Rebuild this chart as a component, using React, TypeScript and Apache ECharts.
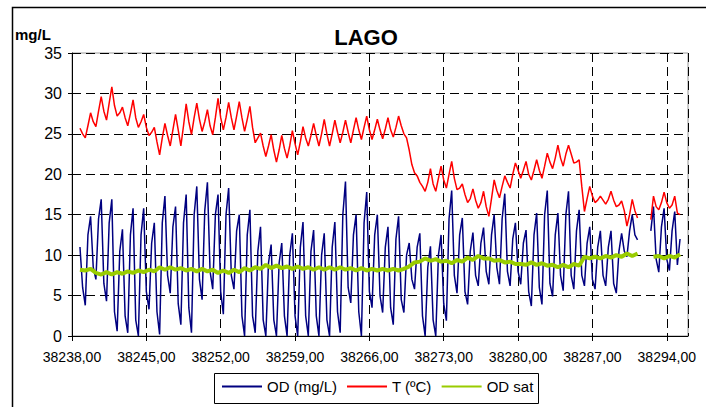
import React, { useEffect, useRef } from 'react';
import * as echarts from 'echarts';

// ---- axis settings ----
const BASE_DAY = 38238;
const AXIS_MAX_DAY = 38296;
const X_TICK_STEP = 7;
const Y_MIN = 0;
const Y_MAX = 35;
const Y_STEP = 5;

// ---- series ----
const SERIES_NAMES = ['OD (mg/L)', 'T (ºC)', 'OD sat'];
const TITLE = 'LAGO';
const Y_UNIT = 'mg/L';

// OD and T sampled every 0.25 day from 38238.75
const OD_START = 38238.75;
const OD_STEP = 0.25;
const odValues: (number | null)[] = [
  11.0,
  6.0, 3.8, 12.5, 14.8,
  8.5, 7.0, 14.5, 16.9,
  6.5, 4.3, 14.0, 16.9,
  3.0, 0.6, 10.5, 13.2,
  2.5, 0.4, 12.5, 15.8,
  2.0, 0.0, 12.5, 15.8,
  5.5, 3.3, 11.5, 14.0,
  3.0, 0.2, 14.0, 17.3,
  7.5, 5.3, 13.5, 16.0,
  4.0, 1.4, 14.0, 17.5,
  3.5, 0.4, 15.0, 18.5,
  7.0, 4.5, 15.5, 19.0,
  8.0, 5.8, 15.0, 17.5,
  5.5, 2.7, 15.0, 18.3,
  7.5, 5.8, 13.0, 15.0,
  2.5, 0.0, 12.5, 15.6,
  2.5, 0.4, 10.5, 13.5,
  2.0, 0.0, 9.0, 11.3,
  2.0, 0.0, 9.0, 11.5,
  2.5, 0.0, 10.0, 12.7,
  2.5, 0.0, 11.0, 14.1,
  2.5, 0.0, 10.5, 13.1,
  2.5, 0.0, 10.0, 12.7,
  2.0, 0.0, 11.0, 14.1,
  3.0, 0.4, 15.0, 19.1,
  6.0, 4.1, 12.5, 15.0,
  3.0, 0.0, 14.0, 17.8,
  5.5, 3.5, 12.5, 15.0,
  5.0, 2.9, 11.0, 13.5,
  3.5, 1.4, 12.0, 14.8,
  4.5, 2.9, 10.0, 11.5,
  7.0, 5.8, 11.0, 12.7,
  2.5, 0.0, 8.5, 11.1,
  2.0, 0.0, 10.0, 12.5,
  4.0, 1.9, 14.5, 18.0,
  7.5, 5.3, 12.5, 14.6,
  5.5, 3.9, 10.5, 12.8,
  7.5, 6.2, 11.5, 13.4,
  8.0, 6.4, 12.5, 15.0,
  8.5, 6.4, 14.5, 17.6,
  8.0, 6.2, 12.0, 14.0,
  8.0, 6.4, 11.5, 13.1,
  5.5, 3.7, 12.5, 15.2,
  6.0, 3.9, 15.0, 18.0,
  6.5, 4.9, 12.5, 15.2,
  7.5, 5.6, 15.0, 17.9,
  7.5, 5.8, 13.0, 15.6,
  7.5, 6.2, 11.5, 13.5,
  7.0, 5.8, 11.0, 13.0,
  7.5, 6.2, 11.0, 13.0,
  6.5, 5.3, 10.5, 12.7,
  10.5, 9.8, 13.0, 15.0,
  12.5, 11.9, null, null,
  null, null, 13.0, 16.0,
  9.5, 7.9, 13.5, 15.8,
  9.5, 8.1, 13.0, 15.4,
  8.8, 12.0,
];

const tempValues: (number | null)[] = [
  25.7,
  25.0, 24.5, 26.0, 27.6,
  26.5, 25.9, 27.8, 29.6,
  27.8, 26.7, 28.8, 30.8,
  28.5, 27.2, 27.6, 28.3,
  27.0, 26.0, 27.5, 29.2,
  27.0, 25.8, 26.5, 27.4,
  25.8, 24.8, 25.2, 25.8,
  24.0, 22.4, 24.5, 26.3,
  24.8, 23.5, 25.5, 27.4,
  25.5, 23.5, 26.0, 28.7,
  26.5, 24.9, 27.0, 28.8,
  26.8, 25.3, 26.5, 28.0,
  26.0, 24.9, 27.0, 29.4,
  27.0, 25.5, 27.0, 28.9,
  27.0, 25.5, 27.2, 29.0,
  27.0, 25.3, 26.8, 28.4,
  25.8, 23.9, 24.5, 25.1,
  23.5, 22.2, 23.5, 24.9,
  23.0, 21.5, 23.0, 24.8,
  23.2, 22.0, 23.5, 25.4,
  23.8, 22.4, 24.0, 25.9,
  24.5, 23.5, 24.8, 26.3,
  24.8, 23.5, 25.0, 26.8,
  25.0, 23.5, 25.0, 26.7,
  25.2, 23.9, 25.2, 26.7,
  25.2, 23.9, 25.5, 27.0,
  25.5, 24.3, 25.8, 27.2,
  25.5, 24.3, 25.5, 26.8,
  25.5, 24.4, 25.6, 27.0,
  25.5, 24.6, 25.8, 27.2,
  26.0, 25.0, 24.5, 23.0,
  21.2, 20.2, 19.8, 19.0,
  18.5, 17.9, 19.0, 20.7,
  18.8, 17.9, 19.5, 21.0,
  19.3, 18.3, 20.0, 21.6,
  19.5, 18.1, 18.3, 18.8,
  17.5, 16.5, 17.0, 18.2,
  16.8, 15.8, 16.5, 17.9,
  16.0, 14.8, 17.0, 19.3,
  18.0, 17.1, 18.5, 19.8,
  19.0, 18.3, 20.0, 21.4,
  20.5, 19.5, 20.5, 21.6,
  20.0, 19.3, 20.5, 21.8,
  20.5, 19.5, 21.0, 22.6,
  21.5, 20.7, 22.0, 23.6,
  22.0, 21.0, 22.5, 23.6,
  22.5, 21.4, 21.5, 21.8,
  18.5, 15.4, 17.0, 18.5,
  17.3, 16.5, 16.8, 17.3,
  16.8, 16.3, 16.9, 17.9,
  16.8, 16.0, 16.2, 16.7,
  15.5, 13.6, 15.0, 16.9,
  15.5, 14.6, null, null,
  null, null, 14.4, 17.3,
  16.0, 15.6, 16.5, 17.8,
  16.5, 15.8, 16.2, 17.3,
  15.2, 15.0,
];

// OD sat sampled every 0.5 day from 38238.75
const SAT_START = 38238.75;
const SAT_STEP = 0.5;
const satValues: (number | null)[] = [
  8.2,
  8.1, 8.3,
  7.8, 7.6,
  7.9, 7.6,
  7.9, 7.7,
  8.0, 7.8,
  8.1, 7.9,
  8.2, 8.0,
  8.5, 8.2,
  8.5, 8.2,
  8.4, 8.1,
  8.3, 8.0,
  8.3, 8.0,
  8.2, 7.8,
  8.1, 7.8,
  8.2, 7.9,
  8.4, 8.1,
  8.5, 8.3,
  8.8, 8.4,
  8.7, 8.4,
  8.6, 8.3,
  8.6, 8.3,
  8.5, 8.2,
  8.5, 8.2,
  8.5, 8.2,
  8.5, 8.2,
  8.4, 8.1,
  8.4, 8.1,
  8.3, 8.1,
  8.3, 8.1,
  8.3, 8.1,
  8.3, 8.6,
  9.1, 9.2,
  9.6, 9.3,
  9.5, 9.2,
  9.3, 9.0,
  9.4, 9.2,
  9.7, 9.4,
  9.9, 9.6,
  9.6, 9.3,
  9.4, 9.1,
  9.2, 8.9,
  8.9, 8.8,
  9.1, 8.8,
  9.0, 8.7,
  8.8, 8.5,
  8.8, 8.5,
  8.9, 8.7,
  9.8, 9.6,
  9.8, 9.6,
  9.9, 9.7,
  10.0, 9.8,
  10.2, 9.9,
  10.2, null,
  null, 9.8,
  9.9, 9.6,
  9.9, 9.7,
  10.1,
];

const toPairs = (vals: (number | null)[], start: number, step: number) =>
  vals.map((v, i) => [start - BASE_DAY + i * step, v]);

const FONT = 'Liberation Sans, Arial, Helvetica, sans-serif';

export default function App() {
  const ref = useRef<HTMLDivElement>(null);
  useEffect(() => {
    if (!ref.current) return;
    const chart = echarts.init(ref.current, undefined, { renderer: 'svg' });
    const option: any = {
      animation: false,
      backgroundColor: '#fff',
      grid: {
        left: 72,
        right: 18,
        top: 53,
        bottom: 71,
        show: true,
        borderColor: '#999',
        borderWidth: 1,
        backgroundColor: 'transparent',
      },
      graphic: [
        {
          type: 'rect',
          shape: { x: 12.5, y: 7.5, width: 900, height: 600 },
          style: { fill: 'none', stroke: '#000', lineWidth: 1.5 },
          silent: true,
        },
        {
          type: 'rect',
          shape: { x: 214.5, y: 373.5, width: 324, height: 30 },
          style: { fill: 'none', stroke: '#000', lineWidth: 1 },
          silent: true,
        },
        {
          type: 'text',
          x: 366,
          y: 37,
          style: {
            text: TITLE,
            font: 'bold 22px ' + FONT,
            fill: '#000',
            textAlign: 'center',
            textVerticalAlign: 'middle',
          },
        },
        {
          type: 'text',
          x: 15,
          y: 34,
          style: {
            text: Y_UNIT,
            font: 'bold 15px ' + FONT,
            fill: '#000',
            textAlign: 'left',
            textVerticalAlign: 'middle',
          },
        },
      ],
      legend: {
        data: SERIES_NAMES,
        left: 214,
        top: 373,
        itemWidth: 40,
        itemHeight: 14,
        itemGap: 9,
        padding: [6, 7, 6, 7],
        borderWidth: 0,
        itemStyle: { color: 'rgba(0,0,0,0)', borderColor: 'rgba(0,0,0,0)', borderWidth: 0, opacity: 0 },
        textStyle: { fontSize: 15, color: '#000', fontFamily: FONT },
      },
      xAxis: {
        type: 'value',
        min: 0,
        max: AXIS_MAX_DAY - BASE_DAY,
        interval: X_TICK_STEP,
        axisLine: { show: true, onZero: false, lineStyle: { color: '#000', width: 1 } },
        axisTick: { show: true, length: 5, lineStyle: { color: '#000' } },
        axisLabel: {
          showMaxLabel: false,
          margin: 14,
          fontSize: 14,
          color: '#000',
          fontFamily: FONT,
          formatter: (v: number) => (v + BASE_DAY).toFixed(2).replace('.', ','),
        },
        splitLine: { show: true, lineStyle: { color: '#000', type: [9, 5], width: 1 } },
      },
      yAxis: {
        type: 'value',
        min: Y_MIN,
        max: Y_MAX,
        interval: Y_STEP,
        axisLine: { show: true, lineStyle: { color: '#000', width: 1 } },
        axisTick: { show: true, length: 4, lineStyle: { color: '#000' } },
        axisLabel: { margin: 10, fontSize: 16, color: '#000', fontFamily: FONT },
        splitLine: { show: true, lineStyle: { color: '#000', type: [9, 5], width: 1 } },
      },
      series: [
        {
          name: SERIES_NAMES[0],
          type: 'line',
          data: toPairs(odValues, OD_START, OD_STEP),
          symbol: 'none',
          connectNulls: false,
          lineStyle: { color: '#000080', width: 1.5 },
          itemStyle: { color: '#000080' },
        },
        {
          name: SERIES_NAMES[1],
          type: 'line',
          data: toPairs(tempValues, OD_START, OD_STEP),
          symbol: 'none',
          connectNulls: false,
          lineStyle: { color: '#FF0000', width: 1.5 },
          itemStyle: { color: '#FF0000' },
        },
        {
          name: SERIES_NAMES[2],
          type: 'line',
          data: toPairs(satValues, SAT_START, SAT_STEP),
          symbol: 'none',
          connectNulls: false,
          lineStyle: { color: '#99CC00', width: 4 },
          itemStyle: { color: '#99CC00' },
        },
      ],
    };
    chart.setOption(option);
    return () => chart.dispose();
  }, []);
  return (
    <div
      ref={ref}
      style={{ position: 'fixed', left: 0, top: 0, width: 706, height: 407, background: '#fff' }}
    />
  );
}
